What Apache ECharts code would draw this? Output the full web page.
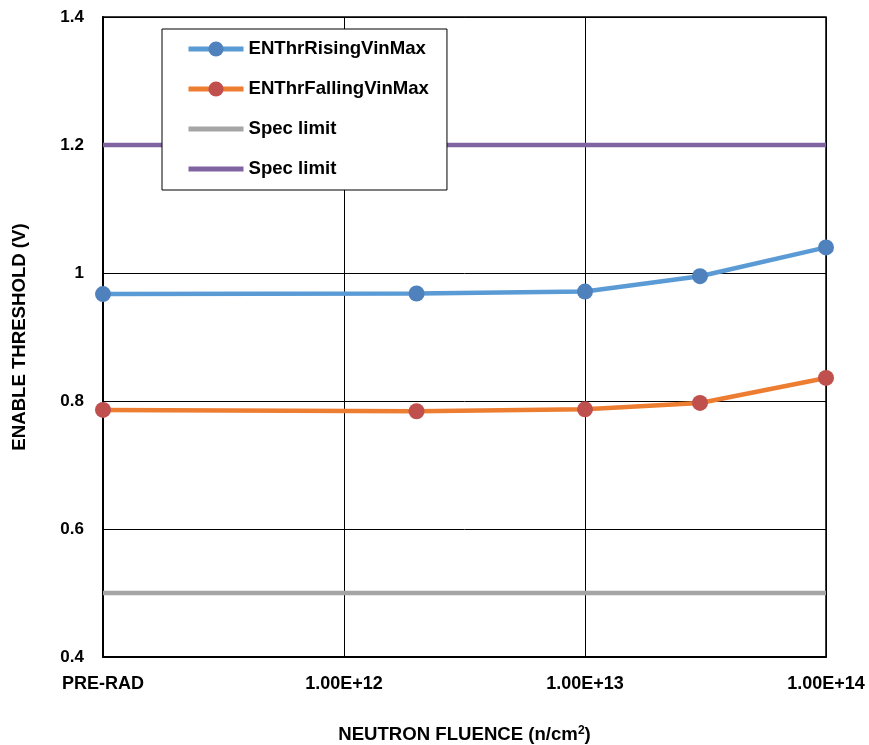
<!DOCTYPE html>
<html>
<head>
<meta charset="utf-8">
<script src="https://cdn.jsdelivr.net/npm/echarts@6/dist/echarts.min.js"></script>
<style>
  html, body { margin: 0; padding: 0; background: #fff; }
  #chart { width: 869px; height: 745px; }
</style>
</head>
<body>
<div id="chart"></div>
<script>
// Neutron fluence (n/cm^2); the pre-irradiation reading sits at the left edge of the log axis
const fluence = [1e11, 2e12, 1e13, 3e13, 1e14];
const risingVinMax = [0.967, 0.968, 0.971, 0.995, 1.040];
const fallingVinMax = [0.786, 0.784, 0.787, 0.797, 0.836];
const specLow = [0.5, 0.5];
const specHigh = [1.2, 1.2];
const specX = [1e11, 1e14];
const xTickLabels = { 1e11: 'PRE-RAD', 1e12: '1.00E+12', 1e13: '1.00E+13', 1e14: '1.00E+14' };
const legendNames = {
  ENThrRisingVinMax: 'ENThrRisingVinMax',
  ENThrFallingVinMax: 'ENThrFallingVinMax',
  specLow: 'Spec limit',
  specHigh: 'Spec limit'
};

const pair = (xs, ys) => xs.map((x, i) => [x, ys[i]]);
const FONT = '"Liberation Sans", Arial, sans-serif';

const chart = echarts.init(document.getElementById('chart'), null, { renderer: 'canvas' });
chart.setOption({
  animation: false,
  backgroundColor: '#fff',
  grid: {
    left: 103, right: 43, top: 17, bottom: 88,
    outerBoundsMode: 'none',
    show: true, borderColor: '#000', borderWidth: 1.5
  },
  legend: {
    left: 162, top: 29,
    orient: 'vertical',
    data: [
      'ENThrRisingVinMax',
      'ENThrFallingVinMax',
      // the limit lines have no markers, so their key shows the bare line
      { name: 'specLow', itemStyle: { opacity: 0 } },
      { name: 'specHigh', itemStyle: { opacity: 0 } }
    ],
    formatter: name => legendNames[name],
    backgroundColor: '#fff',
    borderColor: '#000',
    borderWidth: 1,
    padding: [10, 18, 11, 24],
    itemWidth: 55,
    itemHeight: 19,
    itemGap: 20,
    lineStyle: { width: 5 },
    textStyle: { fontFamily: FONT, fontWeight: 'bold', fontSize: 18.6, color: '#000', lineHeight: 20 }
  },
  xAxis: {
    type: 'log',
    logBase: 10,
    min: 1e11,
    max: 1e14,
    name: 'NEUTRON FLUENCE (n/cm{sup|2})',
    nameLocation: 'middle',
    nameGap: 68,
    nameTextStyle: {
      fontFamily: FONT, fontWeight: 'bold', fontSize: 18.6, color: '#000',
      rich: {
        sup: { fontFamily: FONT, fontWeight: 'bold', fontSize: 12, color: '#000', verticalAlign: 'top', padding: [0, 0, 8, 0] }
      }
    },
    axisLine: { lineStyle: { color: '#000', width: 2 } },
    axisTick: { show: false },
    minorTick: { show: false },
    axisLabel: {
      margin: 18,
      fontFamily: FONT, fontWeight: 'bold', fontSize: 18, color: '#000',
      formatter: v => xTickLabels[Math.round(v)] || ''
    },
    splitLine: { show: true, lineStyle: { color: '#000', width: 1 } }
  },
  yAxis: {
    type: 'value',
    min: 0.4,
    max: 1.4,
    interval: 0.2,
    name: 'ENABLE THRESHOLD (V)',
    nameLocation: 'middle',
    nameGap: 74,
    nameRotate: 90,
    nameTextStyle: { fontFamily: FONT, fontWeight: 'bold', fontSize: 18.6, color: '#000' },
    axisLine: { show: true, lineStyle: { color: '#000', width: 2 } },
    axisTick: { show: false },
    axisLabel: {
      margin: 19,
      fontFamily: FONT, fontWeight: 'bold', fontSize: 17, color: '#000',
      formatter: v => String(+v.toFixed(1))
    },
    splitLine: { show: true, lineStyle: { color: '#000', width: 1 } }
  },
  series: [
    {
      name: 'specLow', type: 'line', data: pair(specX, specLow),
      symbol: 'none', lineStyle: { color: '#a5a5a5', width: 4.5 }, itemStyle: { color: '#a5a5a5' }
    },
    {
      name: 'specHigh', type: 'line', data: pair(specX, specHigh),
      symbol: 'none', lineStyle: { color: '#8064a2', width: 4.5 }, itemStyle: { color: '#8064a2' }
    },
    {
      name: 'ENThrRisingVinMax', type: 'line', data: pair(fluence, risingVinMax),
      symbol: 'circle', symbolSize: 16,
      lineStyle: { color: '#5b9bd5', width: 4.5 }, itemStyle: { color: '#4f81bd' }
    },
    {
      name: 'ENThrFallingVinMax', type: 'line', data: pair(fluence, fallingVinMax),
      symbol: 'circle', symbolSize: 16,
      lineStyle: { color: '#ed7d31', width: 4.5 }, itemStyle: { color: '#c0504d' }
    }
  ]
});
</script>
</body>
</html>
